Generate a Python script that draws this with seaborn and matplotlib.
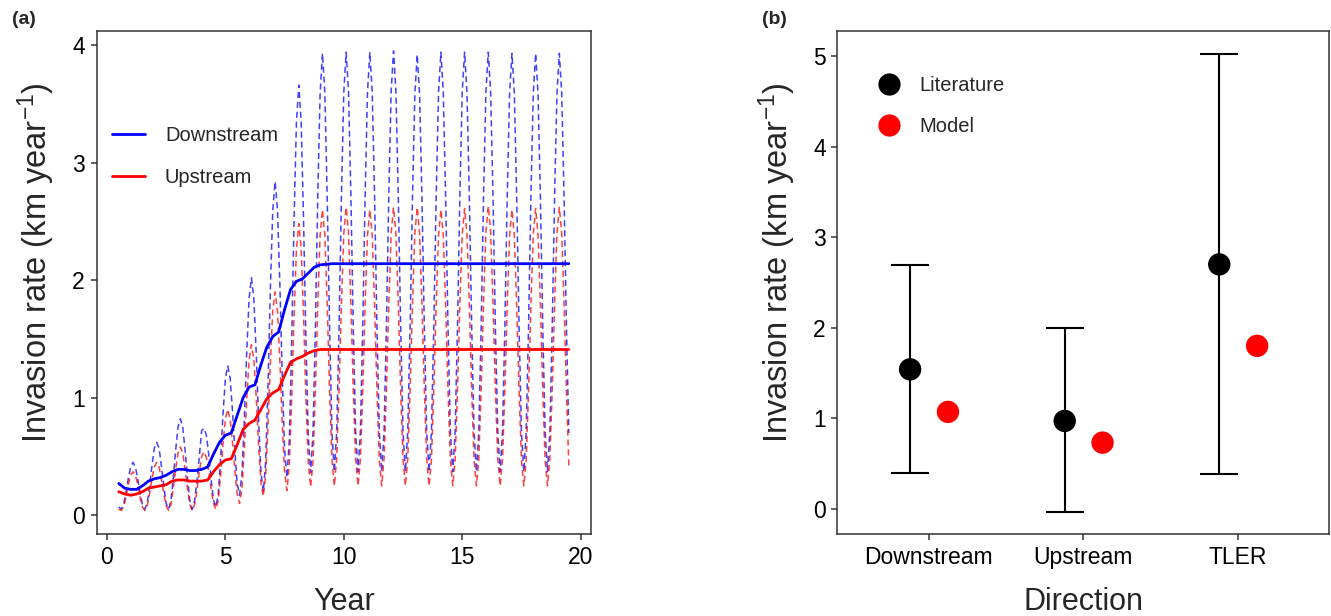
import numpy as np
import pandas as pd
import matplotlib
matplotlib.use("Agg")
import matplotlib.pyplot as plt
import seaborn as sns
from matplotlib.lines import Line2D

# ---------------- Panel (a): invasion rate through time ----------------
dash_years = np.round(np.arange(0.5, 19.55, 0.1), 1)   # model output every 0.1 year

downstream_dashed = [0.07,
    0.05, 0.09, 0.19, 0.31, 0.41, 0.45, 0.41, 0.31, 0.19, 0.09,
    0.05, 0.10, 0.25, 0.42, 0.57, 0.62, 0.57, 0.42, 0.25, 0.10,
    0.05, 0.12, 0.32, 0.55, 0.75, 0.82, 0.75, 0.55, 0.32, 0.12,
    0.05, 0.12, 0.29, 0.50, 0.72, 0.74, 0.68, 0.51, 0.30, 0.13,
    0.07, 0.18, 0.48, 0.86, 1.16, 1.27, 1.17, 0.89, 0.55, 0.27,
    0.17, 0.35, 0.81, 1.38, 1.84, 2.02, 1.85, 1.39, 0.83, 0.37,
    0.20, 0.45, 1.11, 1.93, 2.59, 2.84, 2.60, 1.97, 1.19, 0.56,
    0.32, 0.64, 1.47, 2.51, 3.34, 3.66, 3.35, 2.52, 1.50, 0.67,
    0.36, 0.70, 1.59, 2.70, 3.59, 3.93, 3.59, 2.70, 1.60, 0.71,
    0.37, 0.71, 1.60, 2.71, 3.60, 3.94, 3.60, 2.71, 1.60, 0.71,
    0.37, 0.71, 1.60, 2.71, 3.60, 3.94, 3.60, 2.71, 1.60, 0.71,
    0.37, 0.71, 1.61, 2.72, 3.61, 3.95, 3.61, 2.72, 1.61, 0.71,
    0.37, 0.71, 1.60, 2.70, 3.58, 3.92, 3.58, 2.70, 1.60, 0.71,
    0.37, 0.71, 1.60, 2.71, 3.60, 3.94, 3.60, 2.71, 1.60, 0.71,
    0.37, 0.71, 1.60, 2.71, 3.60, 3.94, 3.60, 2.71, 1.60, 0.71,
    0.37, 0.71, 1.60, 2.71, 3.60, 3.94, 3.60, 2.71, 1.60, 0.71,
    0.37, 0.71, 1.60, 2.71, 3.59, 3.93, 3.59, 2.71, 1.60, 0.71,
    0.37, 0.71, 1.60, 2.71, 3.59, 3.93, 3.59, 2.71, 1.60, 0.71,
    0.37, 0.71, 1.60, 2.71, 3.59, 3.93, 3.59, 2.71, 1.60, 0.70]

upstream_dashed = [0.05,
    0.04, 0.07, 0.15, 0.26, 0.34, 0.37, 0.34, 0.26, 0.15, 0.07,
    0.04, 0.08, 0.18, 0.31, 0.41, 0.45, 0.41, 0.31, 0.18, 0.08,
    0.04, 0.09, 0.23, 0.39, 0.53, 0.58, 0.53, 0.39, 0.23, 0.09,
    0.04, 0.09, 0.21, 0.37, 0.50, 0.54, 0.49, 0.37, 0.22, 0.10,
    0.05, 0.13, 0.34, 0.61, 0.82, 0.90, 0.82, 0.62, 0.38, 0.18,
    0.10, 0.23, 0.57, 0.98, 1.32, 1.45, 1.33, 1.01, 0.61, 0.28,
    0.16, 0.33, 0.76, 1.30, 1.74, 1.90, 1.74, 1.32, 0.79, 0.37,
    0.21, 0.43, 0.99, 1.70, 2.26, 2.48, 2.27, 1.71, 1.01, 0.45,
    0.24, 0.46, 1.05, 1.79, 2.38, 2.60, 2.38, 1.79, 1.06, 0.47,
    0.25, 0.48, 1.07, 1.80, 2.40, 2.62, 2.40, 1.80, 1.07, 0.48,
    0.25, 0.47, 1.06, 1.79, 2.38, 2.60, 2.38, 1.79, 1.06, 0.47,
    0.25, 0.48, 1.07, 1.80, 2.40, 2.62, 2.40, 1.80, 1.07, 0.48,
    0.25, 0.48, 1.07, 1.80, 2.40, 2.62, 2.40, 1.80, 1.07, 0.48,
    0.25, 0.47, 1.06, 1.79, 2.38, 2.60, 2.38, 1.79, 1.06, 0.47,
    0.25, 0.47, 1.06, 1.80, 2.39, 2.61, 2.39, 1.80, 1.06, 0.47,
    0.25, 0.48, 1.07, 1.81, 2.41, 2.63, 2.41, 1.81, 1.07, 0.48,
    0.25, 0.47, 1.06, 1.79, 2.38, 2.60, 2.38, 1.79, 1.06, 0.47,
    0.25, 0.47, 1.06, 1.80, 2.39, 2.61, 2.39, 1.80, 1.06, 0.47,
    0.25, 0.48, 1.07, 1.80, 2.40, 2.62, 2.40, 1.80, 1.07, 0.42]

solid_years = [0.5, 0.75, 1.0, 1.25, 1.5, 1.75, 2.0, 2.25, 2.5, 2.75, 3.0, 3.25,
               3.5, 3.75, 4.0, 4.25, 4.5, 4.75, 5.0, 5.25, 5.5, 5.75, 6.0, 6.25,
               6.5, 6.75, 7.0, 7.25, 7.5, 7.75, 8.0, 8.25, 8.5, 8.75, 9.0, 9.5,
               10, 11, 12, 13, 14, 15, 16, 17, 18, 19, 19.5]

downstream_mean = [0.27, 0.23, 0.22, 0.22, 0.25, 0.29, 0.31, 0.32, 0.34, 0.37, 0.39, 0.39,
                   0.38, 0.38, 0.39, 0.41, 0.52, 0.62, 0.68, 0.70, 0.85, 1.00, 1.09, 1.11,
                   1.28, 1.43, 1.52, 1.56, 1.75, 1.92, 1.99, 2.01, 2.06, 2.11, 2.13, 2.14,
                   2.14, 2.14, 2.14, 2.14, 2.14, 2.14, 2.14, 2.14, 2.14, 2.14, 2.14]

upstream_mean = [0.20, 0.18, 0.17, 0.18, 0.20, 0.23, 0.24, 0.25, 0.26, 0.29, 0.30, 0.30,
                 0.29, 0.29, 0.29, 0.30, 0.37, 0.43, 0.47, 0.48, 0.60, 0.73, 0.78, 0.81,
                 0.90, 0.99, 1.04, 1.07, 1.19, 1.30, 1.33, 1.35, 1.38, 1.40, 1.41, 1.41,
                 1.41, 1.41, 1.41, 1.41, 1.41, 1.41, 1.41, 1.41, 1.41, 1.41, 1.41]

series_labels = ["Downstream", "Upstream"]
series_colors = ["#0000FF", "#FF0000"]

# ---------------- Panel (b): literature vs model ----------------
directions = ["Downstream", "Upstream", "TLER"]
literature_rate = [1.54, 0.97, 2.70]
literature_low = [0.39, -0.04, 0.38]
literature_high = [2.69, 2.00, 5.03]
model_rate = [1.07, 0.73, 1.80]
source_labels = ["Literature", "Model"]
source_colors = ["#000000", "#FF0000"]

# ---------------- style ----------------
sns.set_style("white")
plt.rcParams["font.family"] = ["Liberation Sans", "DejaVu Sans"]
plt.rcParams["mathtext.fontset"] = "custom"
plt.rcParams["mathtext.rm"] = "Liberation Sans"
plt.rcParams["mathtext.it"] = "Liberation Sans"
plt.rcParams["mathtext.default"] = "regular"

fig = plt.figure(figsize=(13.31, 6.16), dpi=100)
ax1 = fig.add_axes([0.0727, 0.1331, 0.3712, 0.8166])
ax2 = fig.add_axes([0.6292, 0.1331, 0.3693, 0.8166])

# ---- panel (a) ----
dash_df = pd.DataFrame({"Year": np.concatenate([dash_years, dash_years]),
                        "Rate": downstream_dashed + upstream_dashed,
                        "Direction": ["Downstream"] * len(dash_years) + ["Upstream"] * len(dash_years)})
mean_df = pd.DataFrame({"Year": solid_years + solid_years,
                        "Rate": downstream_mean + upstream_mean,
                        "Direction": ["Downstream"] * len(solid_years) + ["Upstream"] * len(solid_years)})

for lab, col in zip(series_labels, series_colors):
    d = dash_df[dash_df["Direction"] == lab]
    sns.lineplot(data=d, x="Year", y="Rate", ax=ax1, color=col, alpha=0.75,
                 linewidth=1.1, linestyle=(0, (4, 2.5)), errorbar=None)
for lab, col in zip(series_labels, series_colors):
    d = mean_df[mean_df["Direction"] == lab]
    sns.lineplot(data=d, x="Year", y="Rate", ax=ax1, color=col,
                 linewidth=2.0, errorbar=None)

ax1.set_xlim(-0.43, 20.43)
ax1.set_ylim(-0.16, 4.12)
ax1.set_xticks([0, 5, 10, 15, 20])
ax1.set_yticks([0, 1, 2, 3, 4])
ax1.set_xlabel("Year", fontsize=22, labelpad=13)
ax1.set_ylabel("Invasion rate (km year$^{-1}$)", fontsize=23.5, labelpad=11)

leg_handles = [Line2D([0], [0], color=c, lw=2.0) for c in series_colors]
ax1.legend(leg_handles, series_labels, loc="upper left", bbox_to_anchor=(0.03, 0.812),
           frameon=False, fontsize=14.5, handlelength=1.65, handletextpad=1.0,
           labelspacing=1.15, borderpad=0, borderaxespad=0)

# ---- panel (b) ----
pos = np.arange(len(directions))
pt_df = pd.DataFrame({"x": np.concatenate([pos - 0.12, pos + 0.125]),
                      "Rate": literature_rate + model_rate,
                      "Source": ["Literature"] * 3 + ["Model"] * 3})
lit = pt_df[pt_df["Source"] == "Literature"]
lo = np.array(literature_rate) - np.array(literature_low)
hi = np.array(literature_high) - np.array(literature_rate)
ax2.errorbar(lit["x"], lit["Rate"], yerr=[lo, hi], fmt="none", ecolor="black",
             elinewidth=1.5, capsize=14, capthick=1.5, zorder=2)
sns.scatterplot(data=pt_df, x="x", y="Rate", hue="Source", palette=source_colors,
                s=260, linewidth=0, ax=ax2, legend=False, zorder=3)

ax2.set_xlim(-0.59, 2.59)
ax2.set_ylim(-0.28, 5.28)
ax2.set_xticks(pos)
ax2.set_xticklabels(directions)
ax2.set_yticks([0, 1, 2, 3, 4, 5])
ax2.set_xlabel("Direction", fontsize=22, labelpad=13)
ax2.set_ylabel("Invasion rate (km year$^{-1}$)", fontsize=23.5, labelpad=11)

pt_handles = [Line2D([0], [0], marker="o", linestyle="none", markersize=16,
                     markerfacecolor=c, markeredgewidth=0) for c in source_colors]
ax2.legend(pt_handles, source_labels, loc="upper left", bbox_to_anchor=(0.085, 0.91),
           frameon=False, fontsize=14.5, handlelength=1.0, handletextpad=1.0,
           labelspacing=1.1, borderpad=0, borderaxespad=0)

for ax in (ax1, ax2):
    for sp in ax.spines.values():
        sp.set_color("#333333")
        sp.set_linewidth(1.1)
    ax.tick_params(axis="both", which="major", direction="out", length=4.5, width=1.1,
                   color="#333333", labelsize=16.5, labelcolor="black", pad=4,
                   bottom=True, left=True)
    ax.yaxis.label.set_y(0.54)

fig.text(0.009, 0.968, "(a)", fontsize=14, fontweight="bold", va="center", ha="left")
fig.text(0.5725, 0.968, "(b)", fontsize=14, fontweight="bold", va="center", ha="left")

fig.savefig("out.png", dpi=100)
